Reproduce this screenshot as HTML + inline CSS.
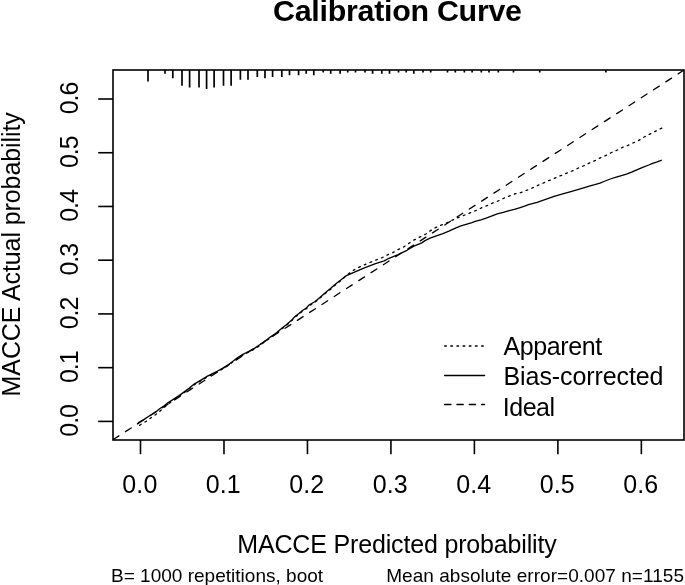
<!DOCTYPE html>
<html><head><meta charset="utf-8"><title>Calibration Curve</title>
<style>
html,body{margin:0;padding:0;background:#fff;width:685px;height:585px;overflow:hidden}
svg{display:block}
text{font-family:'Liberation Sans', Arial, sans-serif;fill:#000}
</style></head><body>
<svg width="685" height="585" viewBox="0 0 685 585">

<text x="397.5" y="21" font-size="30.4" font-weight="bold" text-anchor="middle" textLength="248.9" lengthAdjust="spacing">Calibration Curve</text>
<rect x="113" y="70" width="571" height="370" fill="none" stroke="#000" stroke-width="1.6"/>
<line x1="140.50" y1="440" x2="140.50" y2="454.2" stroke="#000" stroke-width="1.6"/>
<text x="139.80" y="492.7" font-size="25" text-anchor="middle" textLength="35" lengthAdjust="spacing">0.0</text>
<line x1="223.98" y1="440" x2="223.98" y2="454.2" stroke="#000" stroke-width="1.6"/>
<text x="223.28" y="492.7" font-size="25" text-anchor="middle" textLength="35" lengthAdjust="spacing">0.1</text>
<line x1="307.45" y1="440" x2="307.45" y2="454.2" stroke="#000" stroke-width="1.6"/>
<text x="306.75" y="492.7" font-size="25" text-anchor="middle" textLength="35" lengthAdjust="spacing">0.2</text>
<line x1="390.92" y1="440" x2="390.92" y2="454.2" stroke="#000" stroke-width="1.6"/>
<text x="390.22" y="492.7" font-size="25" text-anchor="middle" textLength="35" lengthAdjust="spacing">0.3</text>
<line x1="474.40" y1="440" x2="474.40" y2="454.2" stroke="#000" stroke-width="1.6"/>
<text x="473.70" y="492.7" font-size="25" text-anchor="middle" textLength="35" lengthAdjust="spacing">0.4</text>
<line x1="557.88" y1="440" x2="557.88" y2="454.2" stroke="#000" stroke-width="1.6"/>
<text x="557.17" y="492.7" font-size="25" text-anchor="middle" textLength="35" lengthAdjust="spacing">0.5</text>
<line x1="641.35" y1="440" x2="641.35" y2="454.2" stroke="#000" stroke-width="1.6"/>
<text x="640.65" y="492.7" font-size="25" text-anchor="middle" textLength="35" lengthAdjust="spacing">0.6</text>
<line x1="113" y1="421.40" x2="98.2" y2="421.40" stroke="#000" stroke-width="1.6"/>
<text transform="translate(78.3 420.40) rotate(-90)" font-size="25" text-anchor="middle" textLength="32.6" lengthAdjust="spacing">0.0</text>
<line x1="113" y1="367.67" x2="98.2" y2="367.67" stroke="#000" stroke-width="1.6"/>
<text transform="translate(78.3 366.67) rotate(-90)" font-size="25" text-anchor="middle" textLength="32.6" lengthAdjust="spacing">0.1</text>
<line x1="113" y1="313.93" x2="98.2" y2="313.93" stroke="#000" stroke-width="1.6"/>
<text transform="translate(78.3 312.93) rotate(-90)" font-size="25" text-anchor="middle" textLength="32.6" lengthAdjust="spacing">0.2</text>
<line x1="113" y1="260.20" x2="98.2" y2="260.20" stroke="#000" stroke-width="1.6"/>
<text transform="translate(78.3 259.20) rotate(-90)" font-size="25" text-anchor="middle" textLength="32.6" lengthAdjust="spacing">0.3</text>
<line x1="113" y1="206.47" x2="98.2" y2="206.47" stroke="#000" stroke-width="1.6"/>
<text transform="translate(78.3 205.47) rotate(-90)" font-size="25" text-anchor="middle" textLength="32.6" lengthAdjust="spacing">0.4</text>
<line x1="113" y1="152.73" x2="98.2" y2="152.73" stroke="#000" stroke-width="1.6"/>
<text transform="translate(78.3 151.73) rotate(-90)" font-size="25" text-anchor="middle" textLength="32.6" lengthAdjust="spacing">0.5</text>
<line x1="113" y1="99.00" x2="98.2" y2="99.00" stroke="#000" stroke-width="1.6"/>
<text transform="translate(78.3 98.00) rotate(-90)" font-size="25" text-anchor="middle" textLength="32.6" lengthAdjust="spacing">0.6</text>
<text x="397" y="552.8" font-size="25" text-anchor="middle" textLength="319.5" lengthAdjust="spacing">MACCE Predicted probability</text>
<text transform="translate(20 254.3) rotate(-90)" font-size="25" text-anchor="middle" textLength="284.3" lengthAdjust="spacing">MACCE Actual probability</text>
<text x="111" y="581.9" font-size="19" textLength="212.1" lengthAdjust="spacing">B= 1000 repetitions, boot</text>
<text x="684" y="581.9" font-size="19" text-anchor="end" textLength="297.8" lengthAdjust="spacing">Mean absolute error=0.007 n=1155</text>
<path d="M148.0 70V81.6M165.0 70V73.8M172.8 70V78.2M182.0 70V85.8M189.6 70V87.6M199.0 70V87.6M206.6 70V89.0M214.1 70V87.6M223.5 70V85.8M231.1 70V85.8M240.4 70V79.7M248.0 70V79.7M257.3 70V76.9M265.0 70V78.2M272.6 70V76.9M281.8 70V76.9M289.5 70V75.2M298.6 70V75.2M306.2 70V73.8M313.8 70V75.2M323.2 70V72.5M330.7 70V73.8M340.1 70V73.8M347.7 70V72.4M355.5 70V72.4M365.0 70V72.4M372.6 70V73.8M381.8 70V73.8M389.5 70V73.8M398.5 70V72.4M406.2 70V72.4M413.8 70V73.8M423.0 70V72.4M430.7 70V72.4M447.5 70V72.4M455.3 70V72.4M464.4 70V72.4M472.1 70V72.4M481.3 70V72.4M489.0 70V72.4M498.3 70V72.4M513.5 70V72.4M539.7 70V72.4M605.9 70V72.4" stroke="#000" stroke-width="1.7" fill="none"/>
<clipPath id="c"><rect x="113" y="70" width="571" height="370"/></clipPath>
<line clip-path="url(#c)" x1="113.17" y1="439.59" x2="690.00" y2="66.21" stroke="#000" stroke-width="1.3" stroke-dasharray="6.8 7.83" stroke-linecap="round"/>
<polyline points="137.2,424.2 139.0,422.2 143.8,419.6 148.0,416.7 152.7,413.7 156.9,411.1 160.0,408.5 164.1,405.8 168.2,402.6 173.7,399.1 179.1,395.6 183.9,392.1 189.4,388.1 194.2,384.1 201.0,380.1 207.0,376.4 212.1,373.8 217.2,371.3 222.4,368.4 227.5,365.2 232.6,361.4 237.7,357.5 242.9,354.4 248.5,351.5 254.5,348.4 259.7,344.8 265.2,340.9 270.3,337.1 276.5,332.8 281.5,328.4 286.6,324.5 291.2,320.6 294.7,316.8 298.9,313.5 302.5,310.5 306.7,307.7 309.0,305.0 314.8,301.7 319.9,297.5 325.0,292.9 331.0,288.1 336.2,283.5 341.4,279.5 345.8,275.9 354.5,272.1 365.0,267.6 375.5,263.6 384.3,260.9 389.0,258.3 398.1,254.6 406.9,250.3 413.9,246.1 421.8,242.9 425.0,240.6 430.1,238.1 437.0,235.7 442.9,233.6 448.9,231.1 454.9,228.3 460.9,225.9 466.9,224.2 472.0,222.7 475.0,221.4 481.0,219.9 486.1,218.1 492.1,215.8 497.2,213.9 503.2,212.4 508.3,210.9 514.3,209.4 519.4,207.8 524.6,206.2 528.5,204.6 537.1,202.3 545.6,199.4 554.2,196.3 562.7,193.9 570.0,191.8 577.7,189.6 583.7,187.8 589.2,186.2 594.8,184.7 600.0,183.1 605.1,181.0 610.3,179.0 616.2,177.2 621.4,175.6 626.5,174.1 631.6,172.2 636.8,169.8 642.7,167.3 648.7,165.0 652.6,163.3 657.3,161.9 661.8,160.2" fill="none" stroke="#000" stroke-width="1.3" stroke-linejoin="round"/>
<polyline points="661.8,128.1 655.6,131.2 649.4,134.3 643.5,137.4 638.8,140.4 632.7,143.1 628.0,145.4 622.0,147.7 617.4,150.0 611.5,152.5 606.6,155.2 600.3,157.8 595.6,160.4 589.7,162.9 585.0,165.3 579.0,167.7 574.3,170.1 568.3,172.4 563.6,174.6 557.4,176.9 552.6,179.2 546.7,181.4 542.1,183.7 535.8,186.1 531.3,188.5 525.3,190.8 520.6,192.6 514.3,194.0 509.6,195.9 503.6,198.3 498.9,200.6 493.0,202.9 488.2,205.2 482.3,207.5 477.6,209.9 471.6,212.2 466.9,214.3 461.0,216.4 455.0,218.9 447.0,222.7 436.1,227.3 430.1,230.9 425.9,234.0 419.6,237.2 413.0,240.5 408.3,243.8 403.7,247.0 397.7,249.8 392.9,252.6 386.9,255.2 382.5,257.5 376.4,259.9 370.7,262.2 364.2,264.9 357.6,267.9 351.5,271.5 345.8,276.0 341.4,280.2 336.2,284.2 331.0,288.9 325.0,293.6 319.9,298.1 314.8,302.4 309.0,305.8 306.7,308.4 302.5,311.2 298.9,314.2 294.7,317.5 291.2,321.2 286.6,325.2 281.5,329.1 276.5,333.4 270.3,337.8 265.2,341.6 259.7,345.5 254.5,349.1 248.5,352.2 242.9,355.1 237.7,358.2 232.6,362.1 227.5,365.9 222.4,369.1 217.2,372.0 212.1,374.5 207.0,377.1 201.0,380.8 194.2,384.8 189.4,388.8 183.9,392.8 179.1,396.3 173.7,399.8 168.2,404.1 162.3,409.0 157.5,413.3 152.1,417.1 146.8,420.9 140.8,424.5 137.5,426.8" fill="none" stroke="#000" stroke-width="1.3" stroke-dasharray="1.8 4.36" stroke-linecap="round" stroke-linejoin="round"/>
<line x1="444.7" y1="345.9" x2="484.5" y2="345.9" stroke="#000" stroke-width="1.55" stroke-dasharray="1.54 4.62" stroke-linecap="round"/>
<line x1="444.7" y1="375.4" x2="484.5" y2="375.4" stroke="#000" stroke-width="1.55" stroke-linecap="round"/>
<line x1="444.7" y1="404.5" x2="484.5" y2="404.5" stroke="#000" stroke-width="1.55" stroke-dasharray="6.16 6.16" stroke-linecap="round"/>
<text x="503.5" y="355.3" font-size="25" textLength="98.8" lengthAdjust="spacing">Apparent</text>
<text x="503.5" y="385.1" font-size="25" textLength="160" lengthAdjust="spacing">Bias-corrected</text>
<text x="502.8" y="415.7" font-size="25" textLength="52.3" lengthAdjust="spacing">Ideal</text>
</svg>
</body></html>
